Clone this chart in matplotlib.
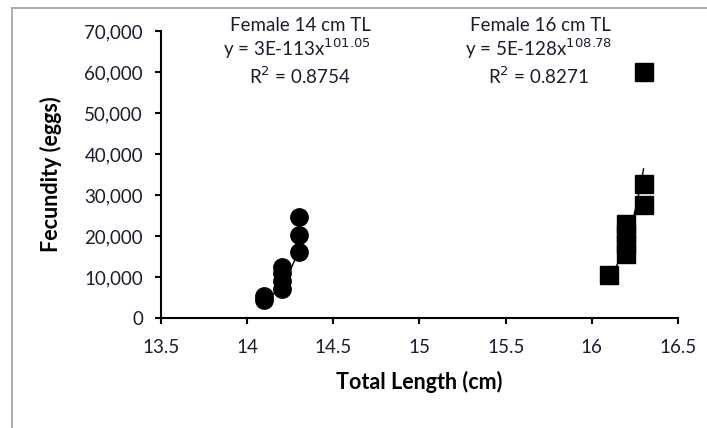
import numpy as np
import matplotlib.pyplot as plt
from matplotlib.lines import Line2D
from matplotlib.ticker import FuncFormatter

plt.rcParams['font.family'] = ['Lato', 'DejaVu Sans']

# data
f14_len = [14.1, 14.1, 14.2, 14.2, 14.2, 14.2, 14.3, 14.3, 14.3]
f14_fec = [4300, 5300, 7000, 9000, 11000, 12500, 16000, 20200, 24700]
f16_len = [16.1, 16.2, 16.2, 16.2, 16.2, 16.3, 16.3, 16.3]
f16_fec = [10500, 15500, 18000, 20500, 23000, 27600, 32700, 59900]

# power trendlines as printed on the chart: y = a * x^b
f14_a, f14_b = 3e-113, 101.05
f16_a, f16_b = 5e-128, 108.78

xticks = [13.5, 14, 14.5, 15, 15.5, 16, 16.5]
yticks = [0, 10000, 20000, 30000, 40000, 50000, 60000, 70000]

txt = '#1c1c30'

fig = plt.figure(figsize=(7.07, 4.28), dpi=100)
ax = fig.add_axes([161 / 707, 1 - 318 / 428, (678 - 161) / 707, (318 - 31) / 428])

# trendlines
def power_line(a, b, xs):
    xx = np.linspace(min(xs), max(xs), 50)
    return xx, np.exp(np.log(a) + b * np.log(xx))

xx, yy = power_line(f14_a, f14_b, f14_len)
ax.plot(xx, yy, color='black', lw=1, zorder=2)
xx, yy = power_line(f16_a, f16_b, f16_len)
ax.plot(xx, yy, color='black', lw=1, zorder=2)

ax.plot(f14_len, f14_fec, 'o', color='black', ms=12.5, zorder=3)
ax.plot(f16_len, f16_fec, 's', color='black', ms=12.5, zorder=3)

ax.set_xlim(13.5, 16.5)
ax.set_ylim(0, 70000)
ax.set_xticks(xticks)
ax.set_yticks(yticks)
ax.xaxis.set_major_formatter(FuncFormatter(lambda v, p: f'{v:g}'))
ax.yaxis.set_major_formatter(FuncFormatter(lambda v, p: f'{int(v):,}'))

for s in ['top', 'right']:
    ax.spines[s].set_visible(False)
for s in ['left', 'bottom']:
    ax.spines[s].set_linewidth(1.5)
ax.tick_params(direction='out', length=4, width=1.5, labelsize=13.5,
               labelcolor=txt, pad=9)
ax.tick_params(axis='x', pad=11)

ax.set_xlabel('Total Length (cm)', fontsize=15.5, fontweight='bold', labelpad=11)
ax.set_ylabel('Fecundity (eggs)', fontsize=15.5, fontweight='bold', labelpad=16)

# equation labels
fs = 13.5
ax.text(14.307, 71400, 'Female 14 cm TL', ha='center', va='center', fontsize=fs, color=txt)
ax.text(14.29, 65600, r'y = 3E-113x$^{101.05}$', ha='center', va='center', fontsize=fs, color=txt)
ax.text(14.307, 59000, r'R$^{2}$ = 0.8754', ha='center', va='center', fontsize=fs, color=txt)
ax.text(15.70, 71400, 'Female 16 cm TL', ha='center', va='center', fontsize=fs, color=txt)
ax.text(15.69, 65600, r'y = 5E-128x$^{108.78}$', ha='center', va='center', fontsize=fs, color=txt)
ax.text(15.69, 59000, r'R$^{2}$ = 0.8271', ha='center', va='center', fontsize=fs, color=txt)

# chart area frame (top and left edges only are visible)
fig.add_artist(Line2D([12 / 707, 1], [1 - 8 / 428, 1 - 8 / 428], color='#a0a0a0', lw=1.2))
fig.add_artist(Line2D([12 / 707, 12 / 707], [0, 1 - 8 / 428], color='#a0a0a0', lw=1.2))

fig.savefig('out.png', dpi=100)
